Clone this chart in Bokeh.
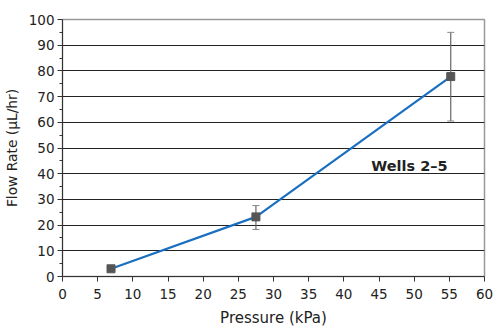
from bokeh.plotting import figure
from bokeh.models import ColumnDataSource, Whisker, Range1d, Label, FixedTicker
from bokeh.embed import file_html
from bokeh.resources import INLINE

pressure = [6.9, 27.5, 55.2]
flow = [3.0, 23.2, 77.8]
err_upper = [3.0, 27.6, 95.0]
err_lower = [3.0, 18.3, 60.5]
x_ticks = [0, 5, 10, 15, 20, 25, 30, 35, 40, 45, 50, 55, 60]
y_ticks = [0, 10, 20, 30, 40, 50, 60, 70, 80, 90, 100]

src = ColumnDataSource(dict(x=pressure, y=flow, upper=err_upper, lower=err_lower))

p = figure(width=498, height=329, output_backend="svg", toolbar_location=None,
           x_range=Range1d(0, 60), y_range=Range1d(0, 100),
           min_border_left=62, min_border_right=14, min_border_top=19, min_border_bottom=52)
p.outline_line_color = "#999999"
p.outline_line_width = 1.5
p.background_fill_color = "white"
p.border_fill_color = "white"

font = "DejaVu Sans"
for ax in (p.xaxis[0], p.yaxis[0]):
    ax.major_label_text_font = font
    ax.major_label_text_font_size = "13.5px"
    ax.major_label_text_color = "#222222"
    ax.axis_label_text_font = font
    ax.axis_label_text_font_style = "normal"
    ax.axis_label_text_color = "#222222"
    ax.axis_line_color = "#333333"
    ax.major_tick_line_color = "#333333"
    ax.major_tick_in = 0
    ax.major_tick_out = 5

p.xaxis.axis_label = "Pressure (kPa)"
p.yaxis.axis_label = "Flow Rate (µL/hr)"
p.xaxis.axis_label_text_font_size = "15px"
p.yaxis.axis_label_text_font_size = "13.8px"
p.xaxis.ticker = FixedTicker(ticks=x_ticks)
p.yaxis.ticker = FixedTicker(ticks=y_ticks, minor_ticks=[v + 5 for v in y_ticks[:-1]])
p.xaxis.minor_tick_line_color = None
p.yaxis.minor_tick_line_color = "#333333"
p.yaxis.minor_tick_in = 0
p.yaxis.minor_tick_out = 3
p.xaxis.major_label_standoff = 7
p.yaxis.major_label_standoff = 3
p.xaxis.axis_label_standoff = 7
p.yaxis.axis_label_standoff = 6

p.xgrid.grid_line_color = None
p.ygrid.grid_line_color = "#222222"
p.ygrid.grid_line_width = 1.2
p.ygrid.ticker = FixedTicker(ticks=y_ticks)

p.line("x", "y", source=src, line_color="#1a6fc0", line_width=2.2)
w = Whisker(source=src, base="x", upper="upper", lower="lower",
            line_color="#666666", line_width=1.2)
w.upper_head.size = 7
w.lower_head.size = 7
w.upper_head.line_color = "#888888"
w.lower_head.line_color = "#888888"
p.add_layout(w)
p.scatter("x", "y", source=src, marker="square", size=8,
          fill_color="#555555", line_color="#555555")

p.add_layout(Label(x=43.9, y=43.0, text="Wells 2–5", text_font=font,
                   text_font_size="14.5px", text_font_style="bold",
                   text_baseline="alphabetic", text_color="#222222"))

open("out.html", "w").write(file_html(p, INLINE))
